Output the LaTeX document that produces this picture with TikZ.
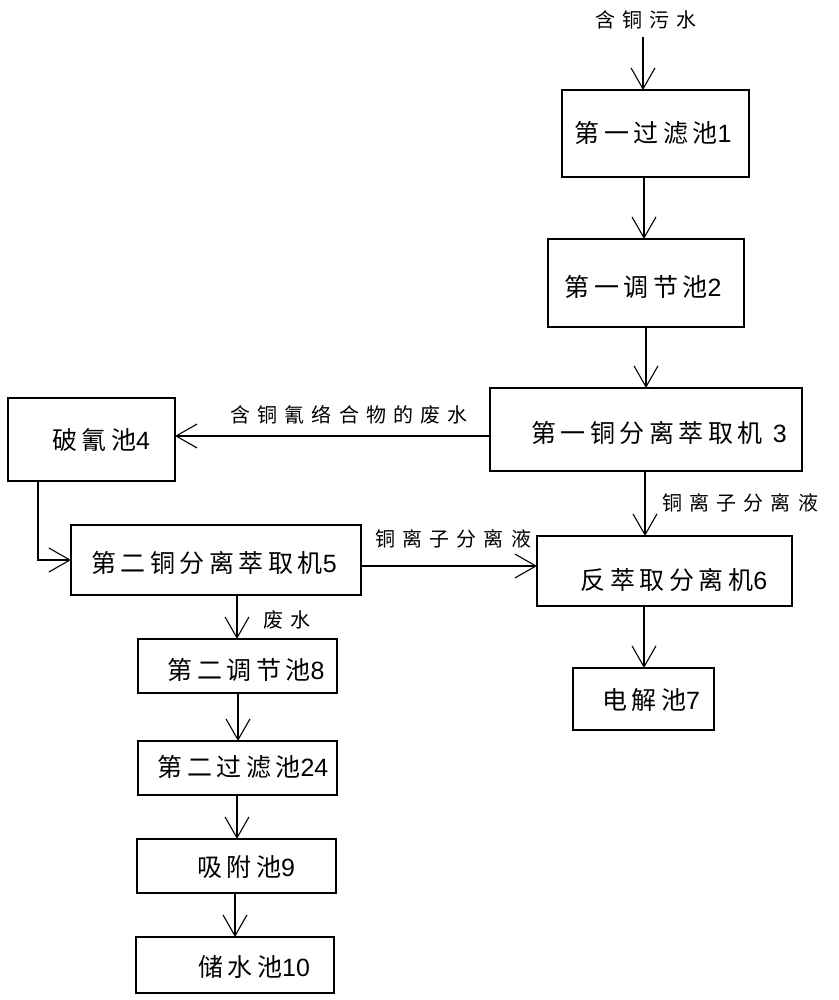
\documentclass[tikz,border=0pt]{standalone}
\usepackage{fontspec}
\usetikzlibrary{arrows.meta}
\newfontfamily\boxfont[LetterSpace=18]{Noto Sans CJK SC}
\newfontfamily\labfont[LetterSpace=36]{Noto Sans CJK SC}
\newfontfamily\digfont{Liberation Sans}
\newcommand\dgt[1]{{\digfont #1}}
\begin{document}
\begin{tikzpicture}[x=1pt,y=-1pt,
  box/.style 2 args={draw, line width=1.3pt, inner sep=0pt, outer sep=0pt, minimum width=#1pt, minimum height=#2pt},
  txt/.style={inner sep=0pt, font=\boxfont\fontsize{25}{25}\selectfont},
  lab/.style={inner sep=0pt, font=\labfont\fontsize{20}{20}\selectfont},
  arr/.style={line width=1.2pt, -{Straight Barb[length=21pt,width=24pt,line width=1.1pt]}},
  ln/.style={line width=1.2pt}]
\useasboundingbox[fill=white] (0,0) rectangle (838,1000);

% boxes
\node[box={187}{87}] (b1) at (655.5,133.5) {};
\node[box={196}{88}] (b2) at (646,283) {};
\node[box={312}{83}] (b3) at (646,429.5) {};
\node[box={167}{83}] (b4) at (91.5,439.5) {};
\node[box={290}{70}] (b5) at (216,560) {};
\node[box={255}{70}] (b6) at (664.5,571) {};
\node[box={141}{62}] (b7) at (643.5,699) {};
\node[box={199}{54}] (b8) at (237.5,666) {};
\node[box={199}{54}] (b9) at (237.5,768) {};
\node[box={199}{54}] (b10) at (236.5,866) {};
\node[box={198}{56}] (b11) at (235,965) {};

% box texts
\node[txt] (t1) at (653,133) {第一过滤池\dgt{1}};
\node[txt] (t2) at (643,287) {第一调节池\dgt{2}};
\node[txt] (t3) at (659,433) {第一铜分离萃取机 \dgt{3}};
\node[txt] (t4) at (101,440) {破氰池\dgt{4}};
\node[txt] (t5) at (214,563) {第二铜分离萃取机\dgt{5}};
\node[txt] (t6) at (674,580) {反萃取分离机\dgt{6}};
\node[txt] (t7) at (651,700) {电解池\dgt{7}};
\node[txt] (t8) at (246,670) {第二调节池\dgt{8}};
\node[txt] (t9) at (243,767) {第二过滤池\dgt{24}};
\node[txt] (t10) at (246,867) {吸附池\dgt{9}};
\node[txt] (t11) at (254,967) {储水池\dgt{10}};

% labels
\node[lab] (l0) at (646,20) {含铜污水};
\node[lab] (l1) at (349,415) {含铜氰络合物的废水};
\node[lab] (l2) at (740,503) {铜离子分离液};
\node[lab] (l3) at (453,539) {铜离子分离液};
\node[lab] (l4) at (287,620) {废水};

% helper coordinates
\coordinate (in) at (643,37);
\coordinate (x12) at (644,0);
\coordinate (x23) at (646,0);
\coordinate (y34) at (0,436);
\coordinate (x45) at (38,0);
\coordinate (y56) at (0,566);
\coordinate (x36) at (645,0);
\coordinate (x67) at (644,0);
\coordinate (x58) at (237,0);
\coordinate (x89) at (238,0);
\coordinate (x910) at (237,0);
\coordinate (x1011) at (235,0);

% connectors
\draw[arr] (in) -- (b1.north -| in);
\draw[arr] (b1.south -| x12) -- (b2.north -| x12);
\draw[arr] (b2.south -| x23) -- (b3.north -| x23);
\draw[arr] (b3.west |- y34) -- (b4.east |- y34);
\draw[arr] (b4.south -| x45) |- (b5.west);
\draw[arr] (b5.east |- y56) -- (b6.west |- y56);
\draw[arr] (b3.south -| x36) -- (b6.north -| x36);
\draw[arr] (b6.south -| x67) -- (b7.north -| x67);
\draw[arr] (b5.south -| x58) -- (b8.north -| x58);
\draw[arr] (b8.south -| x89) -- (b9.north -| x89);
\draw[arr] (b9.south -| x910) -- (b10.north -| x910);
\draw[arr] (b10.south -| x1011) -- (b11.north -| x1011);
\end{tikzpicture}
\end{document}
